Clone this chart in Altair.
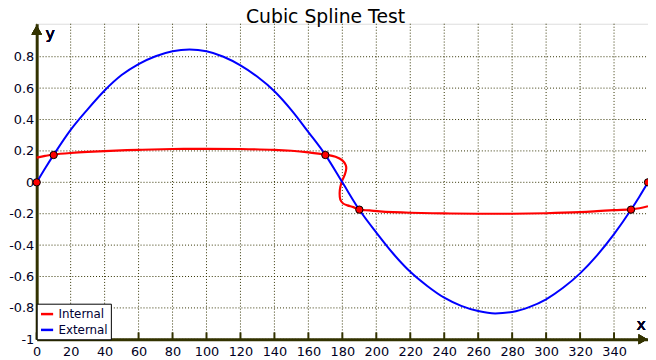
import altair as alt
import pandas as pd

# External spline (blue)
ext_x = [0, 5, 10, 20, 30, 40, 50, 60, 70, 80, 90, 100, 110, 120, 130, 140, 150, 160, 170, 180,
         190, 200, 210, 220, 230, 240, 250, 260, 270, 280, 290, 300, 310, 320, 330, 340, 350, 355, 360]
ext_y = [0, 0.09, 0.175, 0.334, 0.465, 0.585, 0.683, 0.753, 0.803, 0.835, 0.846, 0.835, 0.80, 0.745, 0.672,
         0.58, 0.46, 0.32, 0.175, 0.0, -0.175, -0.32, -0.455, -0.57, -0.66, -0.735, -0.787, -0.82, -0.835,
         -0.826, -0.795, -0.745, -0.672, -0.58, -0.465, -0.33, -0.175, -0.09, 0]

# Internal spline (red), parametric order
int_x = [0, 5, 10, 20, 30, 40, 60, 80, 100, 120, 140, 150, 160, 170, 176, 180, 182, 182.3, 181.5, 180,
         178.8, 178.4, 178.8, 180.5, 183, 186.5, 190, 196, 202, 210, 220, 240, 260, 280, 300, 320, 330,
         340, 350, 355, 360]
int_y = [0.157, 0.168, 0.177, 0.187, 0.194, 0.199, 0.207, 0.212, 0.213, 0.212, 0.207, 0.201, 0.191, 0.177,
         0.163, 0.14, 0.11, 0.088, 0.05, 0.014, -0.03, -0.07, -0.11, -0.135, -0.147, -0.158, -0.174, -0.179,
         -0.185, -0.19, -0.194, -0.198, -0.2, -0.2, -0.197, -0.19, -0.184, -0.177, -0.172, -0.165, -0.152]

knot_x = [0, 10, 170, 190, 350, 360]
knot_y = [0, 0.174, 0.174, -0.174, -0.174, 0]

x_ticks = list(range(0, 341, 20))
y_ticks = [-1, -0.8, -0.6, -0.4, -0.2, 0, 0.2, 0.4, 0.6, 0.8]

AX = "#333300"
W, H = 618, 319

ext_df = pd.DataFrame({"x": ext_x, "y": ext_y, "series": "External", "ord": range(len(ext_x))})
int_df = pd.DataFrame({"x": int_x, "y": int_y, "series": "Internal", "ord": range(len(int_x))})
knot_df = pd.DataFrame({"x": knot_x, "y": knot_y})
tick_df = pd.DataFrame({"x": x_ticks})
ygrid_df = pd.DataFrame({"y": y_ticks})

xs = alt.Scale(domain=[0, 360], nice=False, zero=False)
ys = alt.Scale(domain=[-1, 1.01], nice=False, zero=False)
cs = alt.Scale(domain=["Internal", "External"], range=["#ff0000", "#0000ff"])

common = dict(title=None, grid=False, ticks=False, domainColor=AX, domainWidth=3, labelFontSize=13,
              labelColor="#000022", labelOverlap=False, labelFlush=False, labelBound=False)
XAX = alt.Axis(values=x_ticks, labelPadding=6, tickCount=18, **common)
YAX = alt.Axis(values=y_ticks, labelPadding=3, tickCount=10, labelExpr="'' + datum.value", **common)


def X():
    return alt.X("x:Q", scale=xs, axis=XAX)


def Y():
    return alt.Y("y:Q", scale=ys, axis=YAX)


legend = alt.Legend(title=None, orient="bottom-left", offset=0, fillColor="white", strokeColor="black",
                    padding=3, symbolType="stroke", symbolStrokeWidth=2.5, symbolSize=150,
                    labelFontSize=12, labelColor="#000033", rowPadding=2, cornerRadius=0)

vgrid = alt.Chart(tick_df).mark_rule(color=AX, strokeWidth=1, strokeDash=[1, 2]).encode(
    x=X(), y=alt.value(0), y2=alt.value(H))
hgrid = alt.Chart(ygrid_df).mark_rule(color=AX, strokeWidth=1, strokeDash=[1, 2]).encode(
    y=Y(), x=alt.value(0), x2=alt.value(W))

red = alt.Chart(int_df).mark_line(strokeWidth=2.2, interpolate="catmull-rom").encode(
    x=X(), y=Y(),
    color=alt.Color("series:N", scale=cs, legend=legend),
    order="ord:Q",
)
blue = alt.Chart(ext_df).mark_line(strokeWidth=2, interpolate="monotone").encode(
    x=X(), y=Y(),
    color=alt.Color("series:N", scale=cs, legend=legend),
    order="ord:Q",
)
knots = alt.Chart(knot_df).mark_point(filled=True, fill="#ff0000", stroke="black", strokeWidth=1,
                                       size=55, opacity=1).encode(x=X(), y=Y())

ticks = alt.Chart(tick_df).mark_rule(color=AX, strokeWidth=2).encode(
    x=X(), y=alt.value(H - 7), y2=alt.value(H))

yarrow = alt.Chart(knot_df).mark_point(shape="triangle-up", filled=True, color=AX, size=110, opacity=1).encode(
    x=alt.datum(0), y=alt.datum(0.97))
xarrow = alt.Chart(knot_df).mark_point(shape="triangle-right", filled=True, color=AX, size=100, opacity=1).encode(
    x=alt.datum(357), y=alt.datum(-1))
ylab = alt.Chart(knot_df).mark_text(text="y", fontSize=16, color="#000022", font="DejaVu Sans").encode(
    x=alt.datum(8), y=alt.datum(0.945))
xlab = alt.Chart(knot_df).mark_text(text="x", fontSize=16, color="#000022", font="DejaVu Sans").encode(
    x=alt.datum(356), y=alt.datum(-0.91))

chart = alt.layer(vgrid, hgrid, red, blue, knots, ticks, yarrow, xarrow, ylab, xlab).properties(
    width=W, height=H,
    title=alt.TitleParams("Cubic Spline Test", fontSize=19, font="DejaVu Sans", fontWeight="normal",
                          color="black", anchor="middle", frame="group", dx=-17, dy=4, offset=0),
    autosize=alt.AutoSizeParams(type="none"),
    padding={"left": 29, "top": 14, "right": 0, "bottom": 20},
).configure_view(stroke=None).configure(font="DejaVu Sans")

chart.save("out.html", embed_options={"renderer": "svg", "actions": False})
